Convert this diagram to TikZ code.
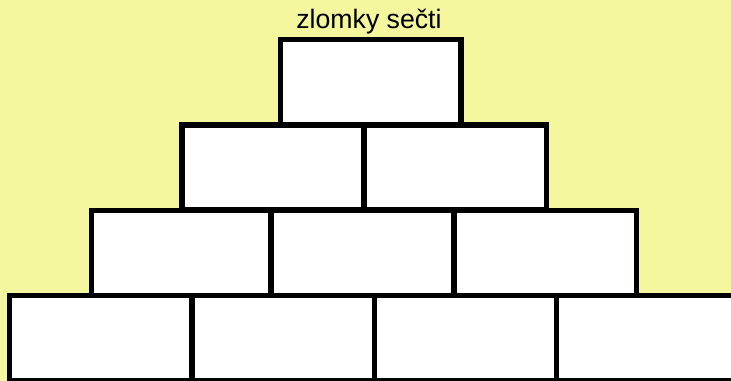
\documentclass[tikz,border=0pt]{standalone}
\usepackage{fontspec}
\setmainfont{Liberation Sans}
\definecolor{wallbg}{RGB}{245,247,158}
\begin{document}
\begin{tikzpicture}[x=0.75pt,y=-0.75pt,font=\fontsize{20}{24}\selectfont,
  brick/.style={draw,line width=3.8pt,fill=white,anchor=north west,
    inner sep=0pt,outer sep=0pt,minimum height=85*0.75pt}]
\fill[wallbg] (0,0) rectangle (731,381);
\useasboundingbox (0,0) rectangle (731,381);
% bottom row
\foreach \x/\w [count=\i] in {9.5/182.5,192/182.5,374.5/182,556.5/182.5}
  \node[brick,minimum width=\w*0.75pt] (r4b\i) at (\x,295.5) {};
% third row
\foreach \x/\w [count=\i] in {91.5/179.5,271/183,454/182.5}
  \node[brick,minimum width=\w*0.75pt] (r3b\i) at (\x,210.5) {};
% second row
\foreach \x/\w [count=\i] in {182/182,364/182.5}
  \node[brick,minimum width=\w*0.75pt] (r2b\i) at (\x,125) {};
% top
\node[brick,minimum width=180.5*0.75pt,minimum height=85.5*0.75pt] (r1b1) at (280.5,39.5) {};
\node[anchor=base] (title) at (369,29) {zlomky sečti};
\end{tikzpicture}
\end{document}
